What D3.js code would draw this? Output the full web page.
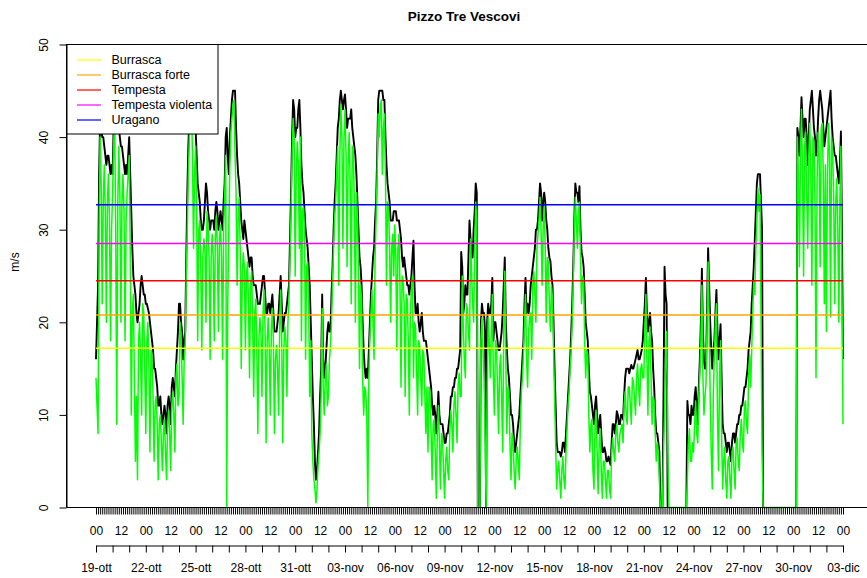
<!DOCTYPE html>
<html><head><meta charset="utf-8">
<script src="https://cdn.jsdelivr.net/npm/d3@7"></script>
<style>body{margin:0;background:#fff}svg{display:block}text{font-family:"Liberation Sans",Arial,Helvetica,sans-serif}</style>
</head><body><svg id="c" width="867" height="578"></svg>
<script>
const title = "Pizzo Tre Vescovi";
const yLabel = "m/s";
const stepHours = 1.5;
const N = null; // missing gust value
// mean wind (green), every 1.5 h from 19-ott 00 (one row per day)
const media = [
14,11,8,30,40,35,22,33,37,32,20,33,36,31,18,30,
34,39,42,30,9,33,39,34,20,33,36,32,18,31,34,36,
38,28,10,21,23,14,5,12,3,18,20,16,10,22,21,15,
8,18,20,15,6,17,16.5,12,5,11,12,9,3,9,10,7,
4,8,9.5,6,3,9,10.5,8,4,11,12.5,10,6,14,15.5,11,
12,20,18.5,14,9,16,17.5,25,30,36,40,42,43.5,38,28,36,
39,33,18,30,31,26,17,27,29,28,20,32,30.5,27,16,27,
29.5,27,18,29,31.5,28,19,29,30.5,27,16,30,33.5,38,0,22,
30,37,40.5,42,43.5,44,38,34,24,31,33.5,28,15,25,27.5,26,
17,25,26.5,22,14,24,25.5,20,12,21,22.5,17,8,18,20.5,19,
12,21,23.5,19,7,18,20.5,17,10,19,21.5,18,8,16,17.5,15,
10,19,23.5,18,7,17,19.5,18,12,20,22.5,27,32,38,42,40,
25,36,39.5,37,28,40,18,32,32.5,30,16,26,26.5,22,12,18,
8,5,3,2,0.5,2,4.5,6,8,12,21.5,13,10,14,15.5,11,
12,16,17.5,20,24.5,28,31.5,33,36.5,39,24,38,43.5,40,28,40,
43,38,26,37,40.5,35,22,39,38.5,33,20,34,31.5,26,15,24,
22.5,14,10,13,12.5,10,0,14,18.5,21,23.5,20,16,27,31.5,36,
42.5,40,43.5,44,36,41,42.5,36,24,33,32.5,28,20,28,29.5,25,
30.5,27,17,28,29.5,24,13,25,24.5,22,12,23,22.5,18,10,21,
23.5,25,14,20,19.5,15,10,18,17.5,14,11,17,16.5,12,8,13,
6,13,12.5,8,3,9,9.5,6,1,8,11,7,2,8,7.5,4,
1,5,6.5,4,3,8,10.5,9,6,11,12.5,10,7,13,14.5,12,
12,25,19.5,16,14,22,21.5,19,17,29,25.5,22,20,28,33,31,
0,0,0,18,20.5,17,14,8,0,12,20.5,18,14,19,23,14,
10,18,17.5,13,8,15,16.5,12,6,19,25.5,16,8,13,12.5,7,
3,8,7.5,4,2,5,6.5,5,3,9,12.5,14,16.5,20,23,16,
13,19,20.5,21,16,24,25.5,23,20,28,29.5,31,33.5,30,24,30,
32.5,28,20,27,26.5,22,19,24,22.5,17,12,7,2,4,5,3,
1,4,5.5,3,2,6,8.5,11,12.5,15,17,20,24.5,30,33.5,31,
28,32,33,27,22,25,24.5,18,14,17,16.5,10,6,9,9.5,4,
2,9,10.5,6,1.5,7,8.5,4,1,5,5,3,1,4,4,2,
1,6,7.5,6,5,8,9,7,6,8,8.5,9,7,11,12.5,10,
9,13,13,11,9,14,13.5,12,10,14,15.5,13,11,15,15.5,14,
14,19,23,16,10,18,19.5,14,9,12,11.5,8,5,7,6,3,
0,0,0,6,10,16,19,8,0,0,0,0,0,0,0,0,
0,0,0,0,0,0,0,0,0,0,3,7,8.5,5,5,7,
6,9,11.5,8,7,12,14.5,18,24,14,10,12,13.5,20,26.5,20,
12,6,2,12,16.5,20,22,10,4,14,18,8,2,5,6.5,3,
1,5,5.5,3,1,6,6.5,4,2,7,7.5,5,4,8,9.5,7,
6,11,11.5,9,8,14,16.5,13,17,21,24.5,23,28,31,34.5,32,
33.8,20,6,0,0,0,0,0,0,0,0,0,0,0,0,0,
0,0,0,0,0,0,0,0,0,0,0,0,0,0,0,0,
0,0,0,0,40,36,26,38,43,36,25,39,40.5,34,28,38,
41.5,36,24,40,39.5,33,14,35,40.5,38,26,41,41.5,36,22,37,
19,36,41.5,38,20.6,40,38.5,34,22,33,35.5,30,20,33,39,24,
9
];
// gusts (black), every 1.5 h
const raffica = [
16,20,24,36,42,41,40,40,39,38,37,38,38,37,36,37,
36,41,44,43,41,42,41,40,39,39,38,37,36,37,36,38,
40,36,32,28,25,24,23,21,20,21,22,24,25,24,23,23,
22,22,21.5,21,20,19,18,17,15,15,14,13,11,11,12,10,
9,10,11,10,8,11,12,11,9,13,14,13,12,15,17,19,
22,22,20,19,16,18,19,27,34,39,42,44,45,44,42,42,
41,38,35,34,33,31,30,30,31,33,35,34,32,31,30,31,
31,31,30,32,33,32,30,31,32,31,30,33,35,40,41,38,
36,40,42,44,45,45,45,41,38,36,35,33,31,30,29,31,
30,29,28,27,26,27,27,25,24,24,24,23,22,22,22,23,
24,25,25,23,21,21,22,22,21,22,23,21,19,19,19,20,
21,23,25,22,19,20,21,21,22,23,24,29,34,40,44,43,
40,41,41,43,44,41,37,35,34,32,30,29,28,26,24,20,
16,12,9,5,3,4,6,8,12,15,23,16,14,15,17,19,
20,19,19,23,26,30,33,35,38,41,42,44,45,44,43,44,
44.6,43,41,42,42,42,43,41,40,39,38,36,33,30,27,26,
24,20,17,15,14,15,14,17,20,23,25,27,28,31,33,38,
44,45,45,45,45,44,44,40,37,35,34,33,31,31,31,32,
32,32,31,31,31,30,29,27,26,27,26,25,24,24,23,24,
25,27,28.8,24,21,21,22,20,19,20,21,19,18,18,18,17,
16,15,14,13,11,10,11,10,8,10,12.5,10,9,9,9,8,
7,7,8,8,9,10,12,12,13,13,14,14,15,15,16,17,
27.6,26,21,22,24,23,23,27,31,29,27,27,30,32,35,34,
0,N,0,20,22,21,21,19,0,20,22,21,21,22,24.8,18,
20,20,19,18,17,17,18,19,21,24,27,20,17,15,14,12,
10,10,9,7,6,7,8,9,10,12,14,16,18,22,24.8,21,
22,21,22,24,25,26,27,28,30,30,31,33,35,34,31,33,
34,33,31,30,28,27,26.6,25,24,20,15,11,7,6,6,6,
5.5,6,7,7,6,8,10,12,14,16,18.7,22,26,31,35,34,
34,33,34.7,30,27.6,27,26,23,20,19,18,15,12.5,12,11,10,
9,11,12,10,8,9,10,8,6,6,6.5,6,5,5,5.5,5,
4.6,7,9,9,8,9,10.4,10,9,9,10,10,9.5,12,14,15,
15,15,14.5,15,15.4,15,15,15.5,16,16.5,17,16,16,16.5,17,18,
20,22,24.8,21,19,20,21,19,18,15,13,10,8,8,7,6,
0,N,0,12,26,23,22,0,N,N,N,N,N,N,N,N,
N,N,N,N,N,N,N,N,N,0,11.5,10,10,9,11,10,
10,12,13,11,9,13,16,20,25.8,19,15.8,15,15,22,28,24,
20,17,15,17,18,21,23.5,19,16,18,19.8,14,9,8,8,7,
6,7,7,6,5,7,8,8,7,8,9,9,10,10,11,11,
12,13,13,14,15,17,18,19,22,24,26,29,32,35,36,36,
36,33,30,0,N,N,N,N,N,N,N,N,N,N,N,N,
N,N,N,N,N,N,N,N,N,N,N,N,N,N,N,N,
N,N,N,0,41,40,38,41,44.3,42,40,42,42,40,37,40,
43,44,45,43,41,40,38,39,42,44,45,44,43,41,39,40,
41,42,43,44,45,42,40,39,38,38,37,36,35,37,40.6,30,
16
];
const thresholdNames = ["Burrasca","Burrasca forte","Tempesta","Tempesta violenta","Uragano"];
const thresholdValues = [17.2, 20.8, 24.5, 28.5, 32.7];
const thresholdColors = ["#FFFF00","#FFA500","#FF0000","#FF00FF","#0000FF"];
const hourLabels = ["00","12","00","12","00","12","00","12","00","12","00","12","00","12","00","12",
                    "00","12","00","12","00","12","00","12","00","12","00","12","00","12","00"];
const dateLabels = ["19-ott","22-ott","25-ott","28-ott","31-ott","03-nov","06-nov","09-nov","12-nov",
                    "15-nov","18-nov","21-nov","24-nov","27-nov","30-nov","03-dic"];
const yTicks = [0,10,20,30,40,50];

const svg = d3.select("#c");
const totalH = (media.length - 1) * stepHours;
const x = d3.scaleLinear().domain([0, totalH]).range([96, 843]);
const y = d3.scaleLinear().domain([0, 50]).range([507.5, 44.5]);

// series
const line = d3.line().defined(d => d != null).x((d, i) => x(i * stepHours)).y(d => y(d));
svg.append("path").datum(raffica).attr("d", line).attr("fill", "none").attr("stroke", "#000")
  .attr("stroke-width", 1.9).attr("stroke-linejoin", "round");
svg.append("path").datum(media).attr("d", line).attr("fill", "none").attr("stroke", "#00FF00")
  .attr("stroke-width", 1.5).attr("stroke-linejoin", "round");

// thresholds
thresholdValues.forEach((v, i) => {
  svg.append("line").attr("x1", x(0)).attr("x2", x(totalH)).attr("y1", y(v)).attr("y2", y(v))
    .attr("stroke", thresholdColors[i]).attr("stroke-width", 1.5);
});

// plot box (right side beyond view)
svg.append("path").attr("d", "M868,44.5H66.5V507.5H868").attr("fill", "none").attr("stroke", "#000").attr("stroke-width", 1);

// legend
const lg = svg.append("g");
lg.append("rect").attr("x", 66.5).attr("y", 44.5).attr("width", 151.5).attr("height", 89.5)
  .attr("fill", "#fff").attr("stroke", "#000");
thresholdNames.forEach((n, i) => {
  const cy = 60 + i * 15;
  lg.append("line").attr("x1", 77).attr("x2", 101).attr("y1", cy).attr("y2", cy)
    .attr("stroke", thresholdColors[i]).attr("stroke-width", 1.2);
  lg.append("text").attr("x", 111.5).attr("y", cy + 4.3).attr("font-size", 12.5).attr("fill", "#000").text(n);
});

// y axis
const ya = svg.append("g").attr("transform", "translate(66.5,0)")
  .call(d3.axisLeft(y).tickValues(yTicks).tickSize(7).tickSizeOuter(0).tickFormat(""));
ya.selectAll("line, path").attr("stroke", "#000");
ya.selectAll(".tick").append("text").attr("transform", "translate(-19,0) rotate(-90)")
  .attr("text-anchor", "middle").attr("font-size", 12).attr("fill", "#000").text(d => d);
svg.append("text").attr("transform", "translate(19,262) rotate(-90)").attr("text-anchor", "middle")
  .attr("font-size", 12).text(yLabel);

// dense 3-hour ticks
const xa1 = svg.append("g").attr("transform", "translate(0,507.5)")
  .call(d3.axisBottom(x).tickValues(d3.range(0, totalH + 1, 3)).tickSize(7).tickSizeOuter(0).tickFormat(""));
xa1.select(".domain").remove();
xa1.selectAll("line").attr("stroke", "#000");

// hour labels
const xa2 = svg.append("g").attr("transform", "translate(0,507.5)")
  .call(d3.axisBottom(x).tickValues(d3.range(0, totalH + 1, 36)).tickSize(0).tickFormat((d, i) => hourLabels[i]));
xa2.select(".domain").remove();
xa2.selectAll("text").attr("y", 27).attr("dy", 0).attr("font-size", 12).attr("fill", "#000").attr("font-family", null);

// day axis
const xa3 = svg.append("g").attr("transform", "translate(0,545.5)")
  .call(d3.axisBottom(x).tickValues(d3.range(0, totalH + 1, 24)).tickSize(7).tickSizeOuter(0)
    .tickFormat((d, i) => i % 3 === 0 ? dateLabels[i / 3] : ""));
xa3.selectAll("line, path").attr("stroke", "#000");
xa3.selectAll("text").attr("y", 26).attr("dy", 0).attr("font-size", 12).attr("fill", "#000").attr("font-family", null);

// title
svg.append("text").attr("x", 464).attr("y", 21).attr("text-anchor", "middle")
  .attr("font-size", 13.5).attr("font-weight", "bold").text(title);
</script></body></html>
